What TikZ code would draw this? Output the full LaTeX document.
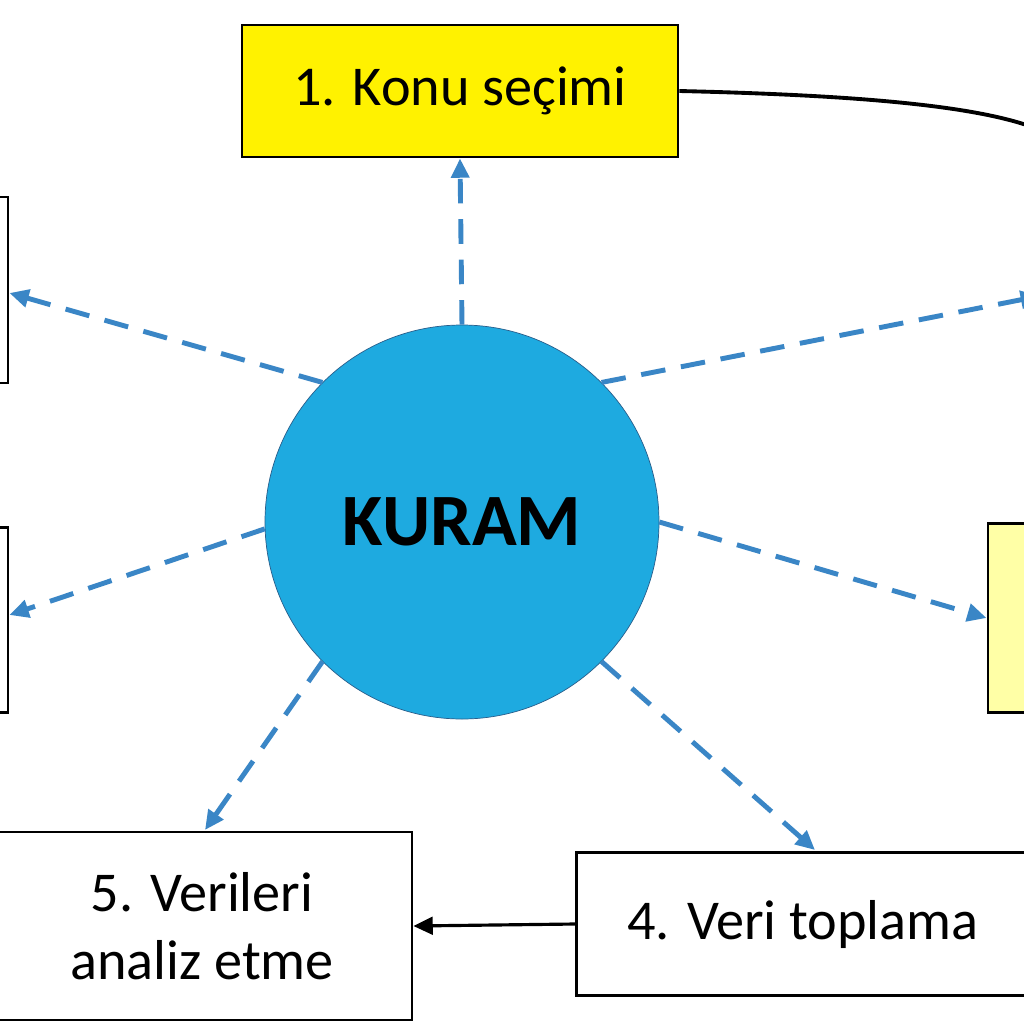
\documentclass[tikz,border=0pt]{standalone}
\usepackage{fontspec}
\setmainfont{Carlito}
\usetikzlibrary{positioning,arrows.meta}
\colorlet{penColor}{black}
\definecolor{kuramBlue}{HTML}{1EAAE0}
\definecolor{dashBlue}{HTML}{3A86C6}
\definecolor{paleYellow}{HTML}{FFFFA6}
\tikzset{
  stepbox/.style={draw=penColor, line width=1.6pt, rectangle, align=center, font=\fontsize{32}{39}\selectfont},
  link/.style={dashBlue, line width=2.8pt, dash pattern=on 14pt off 9pt, -{Triangle[length=11pt,width=10pt]}},
  flow/.style={penColor, line width=1.8pt, -{Triangle[length=11pt,width=10pt]}}
}
\begin{document}
\begin{tikzpicture}[x=0.2mm,y=-0.2mm]
  \useasboundingbox (0,0) rectangle (1024,1024);
  \clip (0,0) rectangle (1024,1024);
  \fill[white] (0,0) rectangle (1024,1024);
  % boxes
  \node[stepbox, fill=yellow, minimum width=87.2mm, minimum height=26.4mm] (konu) at (460,91) {1. Konu seçimi};
  \node[stepbox, minimum width=30mm, minimum height=37.2mm] (sol1) at (-67,290) {};
  \node[stepbox, minimum width=30mm, minimum height=37mm] (sol2) at (-67,620) {};
  \node[stepbox, fill=paleYellow, minimum width=30mm, minimum height=37.8mm] (sag) at (1063,618) {};
  \node[stepbox, minimum width=84mm, minimum height=37.6mm] (analiz) at (202,926) {5. Verileri\\analiz etme};
  \node[stepbox, minimum width=90.6mm, minimum height=28.6mm] (veri) at (803,924) {4. Veri toplama};
  \coordinate (sagust) at (1040,296);
  % center
  \node[circle, draw=dashBlue!70!black, fill=kuramBlue, minimum size=78.8mm,
        font=\fontsize{42}{50}\selectfont\bfseries] (kuram) at (462,522) {KURAM};
  % connectors
  \draw[penColor, line width=2.2pt] (konu.east) .. controls (850,95) and (980,105) .. (1040,130);
  \draw[flow] (veri.west) -- (analiz.east);
  \draw[link] (kuram.north) -- (konu.south);
  \draw[link] (kuram.135) -- (sol1.east|-0,293);
  \draw[link] (kuram.45) -- (sagust);
  \draw[link] (kuram.182) -- (sol2.east|-0,615);
  \draw[link] (kuram.0) -- (sag.west|-0,618);
  \draw[link] (kuram.225) -- (205,830);
  \draw[link] (kuram.-45) -- (815,850);
\end{tikzpicture}
\end{document}
